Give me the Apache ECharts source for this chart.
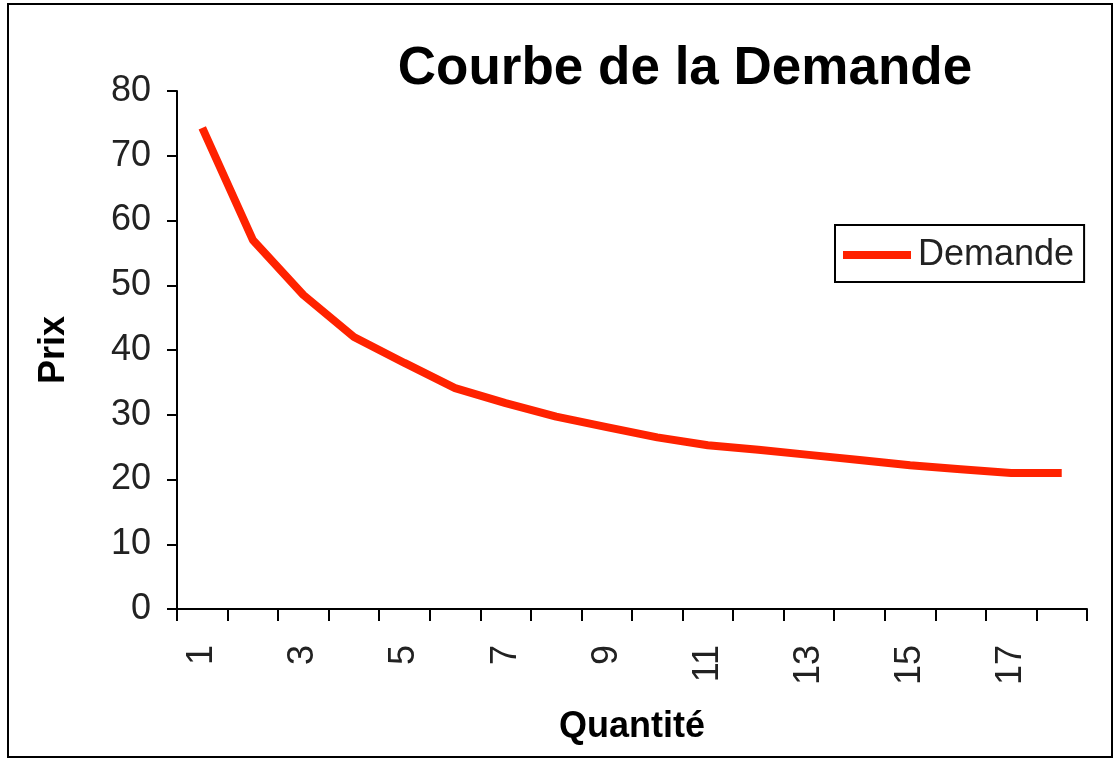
<!DOCTYPE html>
<html>
<head>
<meta charset="utf-8">
<title>Courbe de la Demande</title>
<script src="https://cdn.jsdelivr.net/npm/echarts@6/dist/echarts.min.js"></script>
<style>
  html, body { margin: 0; padding: 0; background: #fff; }
  #main { width: 1118px; height: 761px; }
</style>
</head>
<body>
<div id="main"></div>
<script>
var quantites = ['1', '2', '3', '4', '5', '6', '7', '8', '9', '10', '11', '12', '13', '14', '15', '16', '17', '18'];
var demande = [74.3, 57, 48.5, 42, 38, 34.1, 31.8, 29.7, 28.1, 26.5, 25.3, 24.6, 23.8, 23, 22.2, 21.6, 21, 21];
var prixTicks = [0, 80, 10]; // min, max, interval

var myChart = echarts.init(document.getElementById('main'));
var font = '"Liberation Sans", Arial, sans-serif';

var option = {
    animation: false,
    backgroundColor: '#fff',
    title: {
        text: 'Courbe de la Demande',
        left: 680,
        top: 38,
        textAlign: 'center',
        textStyle: { fontFamily: font, fontSize: 53, fontWeight: 'bold', color: '#000' }
    },
    legend: {
        data: ['Demande'],
        left: 835,
        top: 225,
        orient: 'vertical',
        icon: 'rect',
        itemWidth: 68,
        itemHeight: 8,
        padding: [12, 10, 9, 8],
        borderColor: '#000',
        borderWidth: 2,
        textStyle: { fontFamily: font, fontSize: 36, color: '#222', padding: [0, 0, 0, 2] }
    },
    graphic: [{
        type: 'rect',
        shape: { x: 8, y: 4, width: 1104, height: 753 },
        style: { fill: 'none', stroke: '#000', lineWidth: 2 },
        silent: true
    }],
    grid: { left: 177, top: 91, right: 31, bottom: 152 },
    xAxis: {
        type: 'category',
        data: quantites,
        boundaryGap: true,
        name: 'Quantité',
        nameLocation: 'middle',
        nameGap: 100,
        nameTextStyle: { fontFamily: font, fontSize: 36, fontWeight: 'bold', color: '#000' },
        axisLine: { lineStyle: { color: '#000', width: 2 } },
        axisTick: { show: true, interval: 0, length: 12, lineStyle: { color: '#000', width: 2 } },
        axisLabel: { interval: 1, rotate: 90, margin: 36, fontFamily: font, fontSize: 36, color: '#222' },
        splitLine: { show: false }
    },
    yAxis: {
        type: 'value',
        min: prixTicks[0],
        max: prixTicks[1],
        interval: prixTicks[2],
        name: 'Prix',
        nameLocation: 'middle',
        nameRotate: 90,
        nameGap: 105,
        nameTextStyle: { fontFamily: font, fontSize: 36, fontWeight: 'bold', color: '#000' },
        axisLine: { show: true, lineStyle: { color: '#000', width: 2 } },
        axisTick: { show: true, length: 10, lineStyle: { color: '#000', width: 2 } },
        axisLabel: { margin: 26, fontFamily: font, fontSize: 36, color: '#222' },
        splitLine: { show: false }
    },
    series: [{
        name: 'Demande',
        type: 'line',
        data: demande,
        symbol: 'none',
        smooth: false,
        color: '#ff2200',
        lineStyle: { color: '#ff2200', width: 8 }
    }]
};

myChart.setOption(option);

window.addEventListener('resize', function () {
    myChart.resize();
});
</script>
</body>
</html>
